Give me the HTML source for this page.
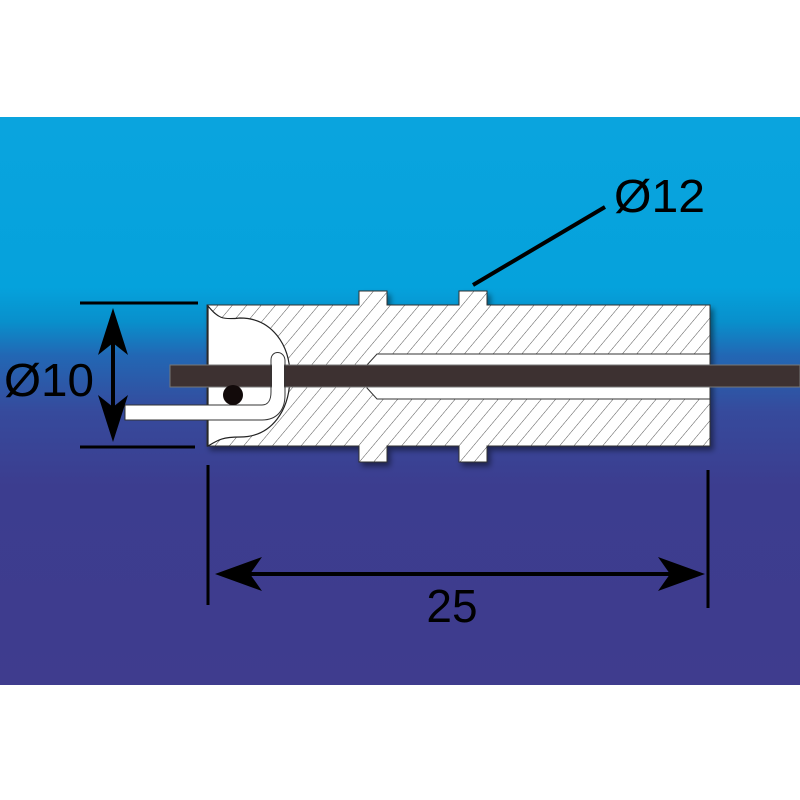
<!DOCTYPE html>
<html><head><style>html,body{margin:0;padding:0;background:#fff}svg{display:block}</style></head>
<body>
<svg width="800" height="800" viewBox="0 0 800 800" xmlns="http://www.w3.org/2000/svg">
<defs>
<linearGradient id="bg" x1="0" y1="117" x2="0" y2="685" gradientUnits="userSpaceOnUse">
<stop offset="0" stop-color="#0aa4de"/>
<stop offset="0.3" stop-color="#05a2dc"/>
<stop offset="0.36" stop-color="#0890cc"/>
<stop offset="0.42" stop-color="#2267b4"/>
<stop offset="0.52" stop-color="#364a9c"/>
<stop offset="0.65" stop-color="#3c3d8f"/>
<stop offset="1" stop-color="#3f3c8e"/>
</linearGradient>
<pattern id="hatch" patternUnits="userSpaceOnUse" width="11" height="11" patternTransform="rotate(40)">
<rect width="11" height="11" fill="#fff"/>
<line x1="0" y1="0" x2="0" y2="11" stroke="#555" stroke-width="1"/>
</pattern>
<filter id="sh" x="-10%" y="-10%" width="130%" height="130%"><feDropShadow dx="3" dy="4" stdDeviation="3" flood-color="#000" flood-opacity="0.45"/></filter>
</defs>
<rect x="0" y="117" width="800" height="568" fill="url(#bg)"/>
<path filter="url(#sh)" d="M207,305 H359 V291 H387 V305 H459 V291 H487 V305 H710 V446 H487 V462 H459 V446 H387 V462 H359 V446 H207 Z" fill="url(#hatch)" stroke="#333" stroke-width="1"/>
<path d="M377,354 H710 V399 H377 L367,388 V365 Z" fill="#fff" stroke="#333" stroke-width="1"/>
<path d="M208,306 C218,318 222,320 240,318 C272,318 290,345 290,376 C290,410 272,437 240,437 C222,437 218,440 208,446 Z" fill="#fff" stroke="#222" stroke-width="1.2"/>
<path d="M125,405 H262 C268,405 271,400 271,392 V360 C271,350 284,350 285,360 V395 C285,410 277,420 262,420 H125 Z" fill="#fff" stroke="#333" stroke-width="1"/>
<rect x="170" y="365" width="630" height="22" fill="#3d3131" stroke="#777" stroke-width="1"/>
<rect x="272" y="362" width="12" height="30" fill="#fff"/>
<line x1="271" y1="362" x2="271" y2="392" stroke="#333" stroke-width="1"/>
<line x1="285" y1="362" x2="285" y2="392" stroke="#333" stroke-width="1"/>
<circle cx="233" cy="395" r="10" fill="#120a0a"/>
<line x1="80" y1="303" x2="198" y2="303" stroke="#000" stroke-width="3"/>
<line x1="80" y1="447" x2="195" y2="447" stroke="#000" stroke-width="3"/>
<line x1="113" y1="330" x2="113" y2="422" stroke="#000" stroke-width="4"/>
<path d="M113,308 L128,355 L113,343 L98,355 Z" fill="#000"/>
<path d="M113,442 L128,395 L113,407 L98,395 Z" fill="#000"/>
<text x="4" y="396" textLength="90" lengthAdjust="spacingAndGlyphs" font-family="Liberation Sans, sans-serif" font-size="46" fill="#000">Ø10</text>
<line x1="605" y1="207" x2="473" y2="285" stroke="#000" stroke-width="4"/>
<text x="614" y="212" textLength="91" lengthAdjust="spacingAndGlyphs" font-family="Liberation Sans, sans-serif" font-size="46" fill="#000">Ø12</text>
<line x1="208" y1="465" x2="208" y2="605" stroke="#000" stroke-width="3"/>
<line x1="708" y1="470" x2="708" y2="608" stroke="#000" stroke-width="3"/>
<line x1="235" y1="574" x2="685" y2="574" stroke="#000" stroke-width="4"/>
<path d="M215,574 L262,557 L250,574 L262,591 Z" fill="#000"/>
<path d="M705,574 L658,557 L670,574 L658,591 Z" fill="#000"/>
<text x="452" y="622" text-anchor="middle" font-family="Liberation Sans, sans-serif" font-size="46" fill="#000">25</text>
</svg>
</body></html>
